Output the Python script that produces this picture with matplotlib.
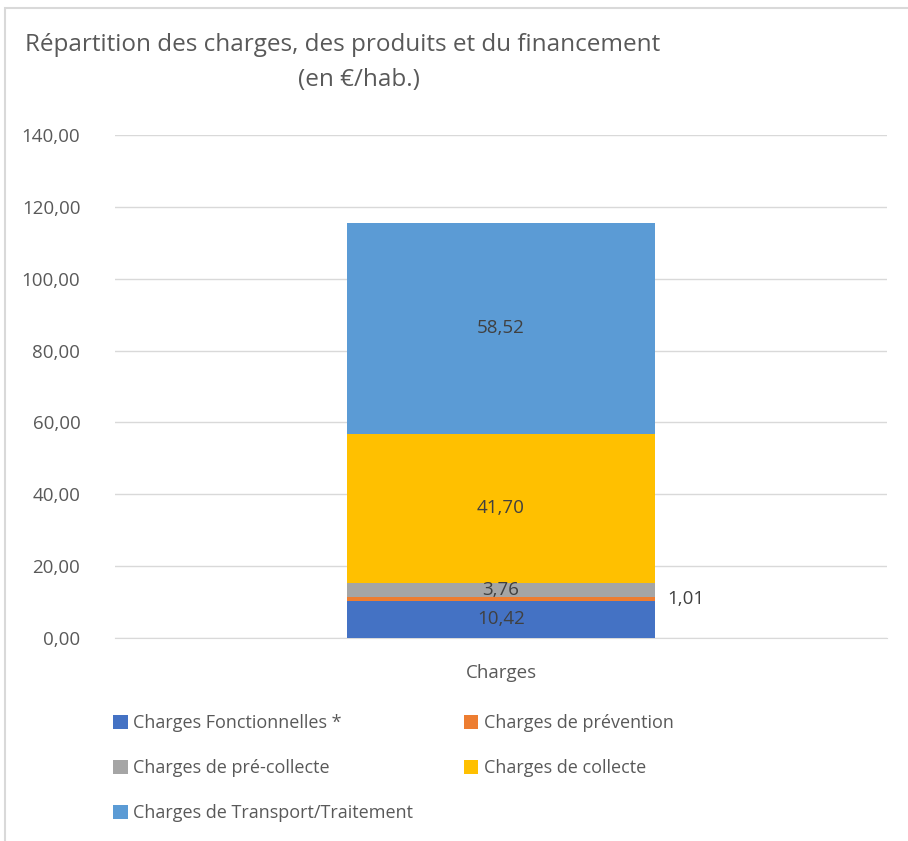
import matplotlib.pyplot as plt
from matplotlib.patches import Rectangle

# données (en €/hab.)
categorie = ["Charges"]
series = ["Charges Fonctionnelles *", "Charges de prévention",
          "Charges de pré-collecte", "Charges de collecte",
          "Charges de Transport/Traitement"]
valeurs = [10.42, 1.01, 3.76, 41.70, 58.52]
couleurs = ["#4472C4", "#ED7D31", "#A5A5A5", "#FFC000", "#5B9BD5"]
yticks = [0, 20, 40, 60, 80, 100, 120, 140]

plt.rcParams['font.family'] = ['Open Sans', 'DejaVu Sans']

fig = plt.figure(figsize=(9.08, 8.41), dpi=100)
ax = fig.add_axes([0.1267, 0.2414, 0.8502, 0.5981])

# cadre du graphique (style Excel)
fig.patches.append(Rectangle((5 / 908, -0.1), 1.2, 1 - 8 / 841 + 0.1,
                             transform=fig.transFigure, fill=False,
                             edgecolor="#D9D9D9", linewidth=1.5))

bas = 0
handles = []
for nom, v, c in zip(series, valeurs, couleurs):
    b = ax.bar(0, v, width=0.4, bottom=bas, color=c, label=nom, zorder=3)
    handles.append(b)
    if nom == "Charges de prévention":
        # petite valeur : étiquette à droite de la barre
        ax.text(0.215, bas + v / 2, f"{v:.2f}".replace(".", ","),
                ha="left", va="center", fontsize=13.5, color="#404040")
    else:
        ax.text(0, bas + v / 2, f"{v:.2f}".replace(".", ","),
                ha="center", va="center", fontsize=13.5, color="#404040", zorder=4)
    bas += v

ax.set_xlim(-0.5, 0.5)
ax.set_ylim(0, 140)
ax.set_yticks(yticks)
ax.set_yticklabels([f"{t:.2f}".replace(".", ",") for t in yticks])
ax.set_xticks([0])
ax.set_xticklabels(categorie)
ax.tick_params(axis="both", length=0, labelsize=13.5, colors="#595959")
ax.tick_params(axis="y", pad=25)
ax.tick_params(axis="x", pad=19)
ax.grid(axis="y", color="#D9D9D9", linewidth=1, zorder=0)
for s in ["top", "right", "left"]:
    ax.spines[s].set_visible(False)
ax.spines["bottom"].set_color("#D9D9D9")

fig.text(25 / 908, 1 - 45 / 841, "Répartition des charges, des produits et du financement",
         ha="left", va="center", fontsize=17.5, color="#595959")
fig.text(359 / 908, 1 - 80 / 841, "(en €/hab.)",
         ha="center", va="center", fontsize=17.5, color="#595959")

# légende remplie ligne par ligne comme dans Excel
ordre = [0, 2, 4, 1, 3]
leg = fig.legend(handles=[handles[i] for i in ordre], labels=[series[i] for i in ordre],
                 loc="upper left", bbox_to_anchor=(97 / 908, 1 - 698 / 841), ncol=2,
                 frameon=False, fontsize=13, handlelength=0.8, handleheight=0.8,
                 handletextpad=0.3, columnspacing=2.8, labelspacing=1.5)
for t in leg.get_texts():
    t.set_color("#595959")

fig.savefig("out.png", dpi=100)
